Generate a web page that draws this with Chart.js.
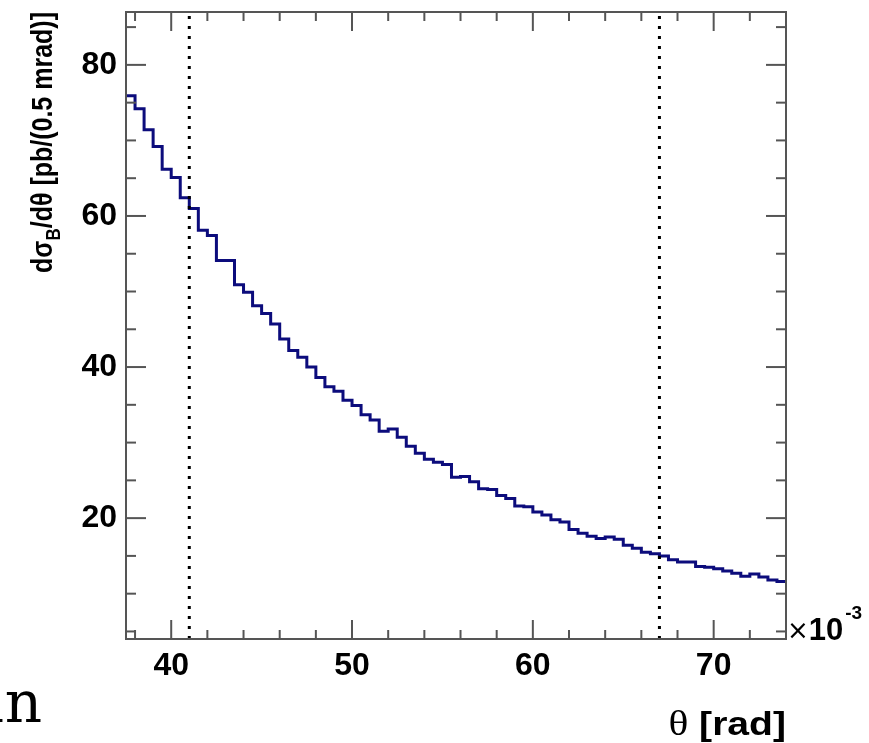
<!DOCTYPE html>
<html><head><meta charset="utf-8">
<script src="https://cdn.jsdelivr.net/npm/chart.js@4/dist/chart.umd.min.js"></script>
<style>html,body{margin:0;padding:0;background:#fff;overflow:hidden}</style>
</head><body>
<canvas id="c" width="869" height="743"></canvas>
<script>
// ---- data ----
const binLowEdges = [37.5,38,38.5,39,39.5,40,40.5,41,41.5,42,42.5,43,43.5,44,44.5,45,45.5,46,46.5,47,47.5,48,48.5,49,49.5,50,50.5,51,51.5,52,52.5,53,53.5,54,54.5,55,55.5,56,56.5,57,57.5,58,58.5,59,59.5,60,60.5,61,61.5,62,62.5,63,63.5,64,64.5,65,65.5,66,66.5,67,67.5,68,68.5,69,69.5,70,70.5,71,71.5,72,72.5,73,73.5];
const histUpperEdge = 74;
const binValues = [75.9,74.2,71.4,69.2,66.2,65.1,62.4,61.0,58.1,57.4,54.1,54.1,50.9,49.9,48.1,47.1,45.7,43.7,42.2,41.3,40.0,38.6,37.4,36.8,35.6,34.9,33.7,33.0,31.5,31.8,30.7,29.5,28.6,27.8,27.4,27.1,25.4,25.5,24.8,23.9,23.8,23.0,22.6,21.6,21.5,20.8,20.4,19.8,19.5,18.5,18.0,17.6,17.3,17.5,17.2,16.4,16.0,15.5,15.3,15.0,14.5,14.2,14.2,13.6,13.5,13.3,13.0,12.7,12.3,12.6,12.2,11.8,11.6];
const cutLines = [41, 67];
const xRange = [37.5, 74];
const yRange = [4, 87];
const xMajorTicks = [40, 50, 60, 70];
const xMinorTicks = [38, 42, 44, 46, 48, 52, 54, 56, 58, 62, 64, 66, 68, 72];
const yMajorTicks = [20, 40, 60, 80];
const yMinorTicks = [5, 10, 15, 25, 30, 35, 45, 50, 55, 65, 70, 75, 85];
const xTitle = ['θ', ' [rad]'];
const yTitle = ['dσ', 'B', '/dθ [pb/(0.5 mrad)]'];
const xExponent = ['×', '10', '-3'];

// ---- build datasets ----
const histPoints = binLowEdges.map((e, i) => ({x: e, y: binValues[i]}));
histPoints.push({x: histUpperEdge, y: binValues[binValues.length - 1]});

const cutDatasets = cutLines.map(v => ({
  data: [{x: v, y: yRange[0]}, {x: v, y: yRange[1]}],
  borderColor: '#000', borderWidth: 3, borderDash: [3, 7], borderCapStyle: 'butt',
  pointRadius: 0, stepped: false, fill: false
}));

const FRAME = '#555';

const rootAxes = {
  id: 'rootAxes',
  afterDatasetsDraw(chart) {
    const {ctx, chartArea: a, scales: {x, y}} = chart;
    ctx.save();
    ctx.strokeStyle = FRAME;
    ctx.lineWidth = 2;
    const seg = (x1, y1, x2, y2) => { ctx.beginPath(); ctx.moveTo(x1, y1); ctx.lineTo(x2, y2); ctx.stroke(); };
    const xt = (v, len) => { const p = x.getPixelForValue(v); seg(p, a.bottom, p, a.bottom - len); seg(p, a.top, p, a.top + len); };
    const yt = (v, len) => { const p = y.getPixelForValue(v); seg(a.left, p, a.left + len, p); seg(a.right, p, a.right - len, p); };
    xMajorTicks.forEach(v => xt(v, 19));
    xMinorTicks.forEach(v => xt(v, 9));
    yMajorTicks.forEach(v => yt(v, 20));
    yMinorTicks.forEach(v => yt(v, 10));
    ctx.strokeRect(a.left, a.top, a.right - a.left, a.bottom - a.top);
    ctx.restore();
  },
  afterDraw(chart) {
    const {ctx, chartArea: a} = chart;
    ctx.save();
    ctx.fillStyle = '#000';
    // x title, right aligned at frame right
    const f1 = 'bold 34px "Liberation Sans", Arial, sans-serif';
    const fT = '36px "Liberation Serif", "DejaVu Serif", serif';
    ctx.textBaseline = 'alphabetic';
    ctx.save();
    ctx.translate(a.right, 735);
    ctx.scale(1.15, 1);
    ctx.font = f1; const w2 = ctx.measureText(xTitle[1]).width;
    ctx.font = fT; const w1 = ctx.measureText(xTitle[0]).width;
    ctx.font = fT; ctx.fillText(xTitle[0], -w2 - w1, 0);
    ctx.font = f1; ctx.fillText(xTitle[1], -w2, 0);
    ctx.restore();

    // y title, rotated, ending at frame top
    const fy = 'bold 25px "Liberation Sans", Arial, sans-serif';
    const fs = 'bold 17px "Liberation Sans", Arial, sans-serif';
    ctx.font = fy; const a0 = ctx.measureText(yTitle[0]).width, a2 = ctx.measureText(yTitle[2]).width;
    ctx.font = fs; const a1 = ctx.measureText(yTitle[1]).width;
    const W = a0 + a1 + a2;
    ctx.save();
    ctx.translate(52, a.top + W);
    ctx.rotate(-Math.PI / 2);
    ctx.scale(1, 1.15);
    ctx.font = fy; ctx.fillText(yTitle[0], 0, 0);
    ctx.font = fs; ctx.fillText(yTitle[1], a0, 7);
    ctx.font = fy; ctx.fillText(yTitle[2], a0 + a1, 0);
    ctx.restore();

    // x10^-3
    ctx.font = '26px "DejaVu Sans", sans-serif';
    ctx.fillText(xExponent[0], a.right + 1, 639);
    const xw = ctx.measureText(xExponent[0]).width;
    ctx.font = 'bold 31px "Liberation Sans", Arial, sans-serif';
    ctx.fillText(xExponent[1], a.right + 1 + xw, 640);
    const tw = ctx.measureText(xExponent[1]).width;
    ctx.font = 'bold 19px "Liberation Sans", Arial, sans-serif';
    ctx.fillText(xExponent[2], a.right + 3 + xw + tw, 619);

    // fragment of slide text at bottom left
    ctx.font = '58px "DejaVu Serif", "Liberation Serif", serif';
    const fw = ctx.measureText('un').width;
    ctx.fillText('un', 42 - fw, 722);
    ctx.restore();
  }
};

new Chart(document.getElementById('c'), {
  type: 'line',
  data: {
    datasets: [
      ...cutDatasets,
      {
        data: histPoints,
        stepped: true,
        borderColor: '#0c0c7c',
        borderWidth: 3,
        pointRadius: 0,
        fill: false
      }
    ]
  },
  options: {
    responsive: false,
    devicePixelRatio: 1,
    animation: false,
    events: [],
    layout: {padding: {left: 0, right: 83, top: 12, bottom: 0}},
    plugins: {legend: {display: false}, tooltip: {enabled: false}},
    scales: {
      x: {
        type: 'linear', min: xRange[0], max: xRange[1],
        grid: {display: false, drawTicks: false},
        border: {display: false},
        afterBuildTicks: s => { s.ticks = xMajorTicks.map(v => ({value: v})); },
        afterFit: s => { s.height = 104; s.paddingLeft = 0; s.paddingRight = 0; },
        ticks: {color: '#000', padding: 8, font: {family: '"Liberation Sans", Arial, sans-serif', size: 32, weight: 'bold'}, callback: v => String(v)}
      },
      y: {
        type: 'linear', min: yRange[0], max: yRange[1],
        grid: {display: false, drawTicks: false},
        border: {display: false},
        afterBuildTicks: s => { s.ticks = yMajorTicks.map(v => ({value: v})); },
        afterFit: s => { s.width = 126; s.paddingTop = 0; s.paddingBottom = 0; },
        ticks: {color: '#000', padding: 9, font: {family: '"Liberation Sans", Arial, sans-serif', size: 32, weight: 'bold'}, callback: v => String(v)}
      }
    }
  },
  plugins: [rootAxes]
});
</script>
</body></html>
